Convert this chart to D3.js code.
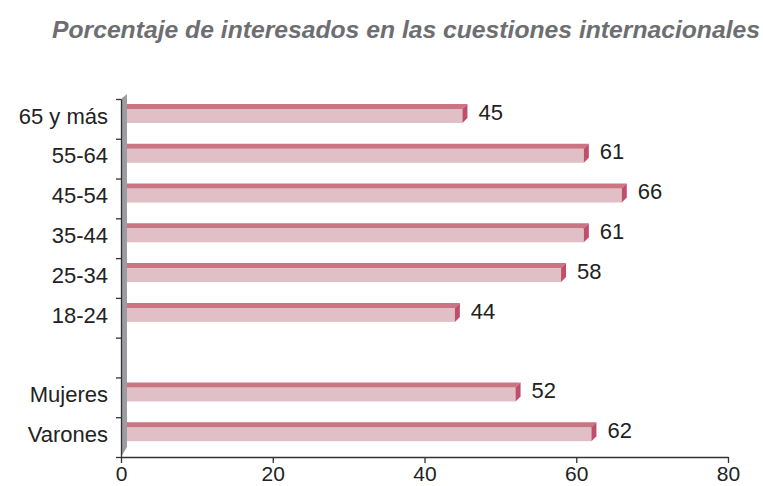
<!DOCTYPE html>
<html>
<head>
<meta charset="utf-8">
<title>Interesados</title>
<script src="https://d3js.org/d3.v7.min.js"></script>
<style>
body { margin: 0; background: #fff; font-family: "Liberation Sans", Arial, sans-serif; }
.axis path, .axis line { stroke: #333; stroke-width: 1.3; fill: none; }
.axis text { font-size: 21px; fill: #222; font-family: "Liberation Sans", Arial, sans-serif; }
</style>
</head>
<body>
<script>
var categories = ["65 y más", "55-64", "45-54", "35-44", "25-34", "18-24", "", "Mujeres", "Varones"];
var values = [45, 61, 66, 61, 58, 44, null, 52, 62];
var xTicks = [0, 20, 40, 60, 80];

var W = 763, H = 486;
var x0 = 121, x1 = 728, yTop = 99, yBot = 457;
var wall = 6, depth = 5;

var svg = d3.select("body").append("svg").attr("width", W).attr("height", H);

svg.append("text").attr("x", 760).attr("y", 38).attr("text-anchor", "end")
  .attr("textLength", 708).attr("lengthAdjust", "spacingAndGlyphs")
  .style("font-size", "24px").style("font-weight", "bold").style("font-style", "italic")
  .style("fill", "#6d6e71").text("Porcentaje de interesados en las cuestiones internacionales");

var x = d3.scaleLinear().domain([0, 80]).range([x0, x1]);
var y = d3.scaleBand().domain(d3.range(categories.length)).range([yTop, yBot]).padding(0);

// side wall
svg.append("polygon")
  .attr("points", [[x0, yTop], [x0 + wall, yTop - depth], [x0 + wall, yBot - 10], [x0, yBot]].join(" "))
  .attr("fill", "#9c9da1");

var data = categories.map(function(c, i) { return {c: c, v: values[i], i: i}; })
  .filter(function(d) { return d.v != null; });

var g = svg.selectAll(".bar").data(data).enter().append("g").attr("class", "bar");
g.each(function(d) {
  var s = d3.select(this);
  var t = y(d.i) + 10, b = t + 14, l = x0 + wall, r = x(d.v);
  s.append("rect").attr("x", l).attr("y", t).attr("width", r - l).attr("height", b - t).attr("fill", "#e0c0c6");
  s.append("polygon").attr("points", [[l, t], [r, t], [r + depth, t - depth], [l, t - depth]].join(" ")).attr("fill", "#c97584");
  s.append("polygon").attr("points", [[r, t], [r + depth, t - depth], [r + depth, b - depth], [r, b]].join(" ")).attr("fill", "#c04d69");
  s.append("text").attr("x", r + 16).attr("y", t + 3).attr("dy", "0.35em")
    .style("font-size", "22px").style("fill", "#222").text(d.v);
});

var xAxis = d3.axisBottom(x).tickValues(xTicks).tickSize(6).tickPadding(3).tickSizeOuter(0);
svg.append("g").attr("class", "axis").attr("transform", "translate(0," + yBot + ")").call(xAxis);

var yAxis = d3.axisLeft(d3.scaleLinear().domain([0, categories.length]).range([yTop, yBot]))
  .tickValues(d3.range(categories.length + 1)).tickFormat("").tickSize(5).tickSizeOuter(0);
svg.append("g").attr("class", "axis").attr("transform", "translate(" + x0 + ",0)").call(yAxis);

svg.selectAll(".clab").data(categories).enter().append("text").attr("class", "clab")
  .attr("x", 108).attr("y", function(c, i) { return y(i) + 17; }).attr("dy", "0.35em")
  .attr("text-anchor", "end").style("font-size", "22px").style("fill", "#222")
  .text(function(c) { return c; });
</script>
</body>
</html>
